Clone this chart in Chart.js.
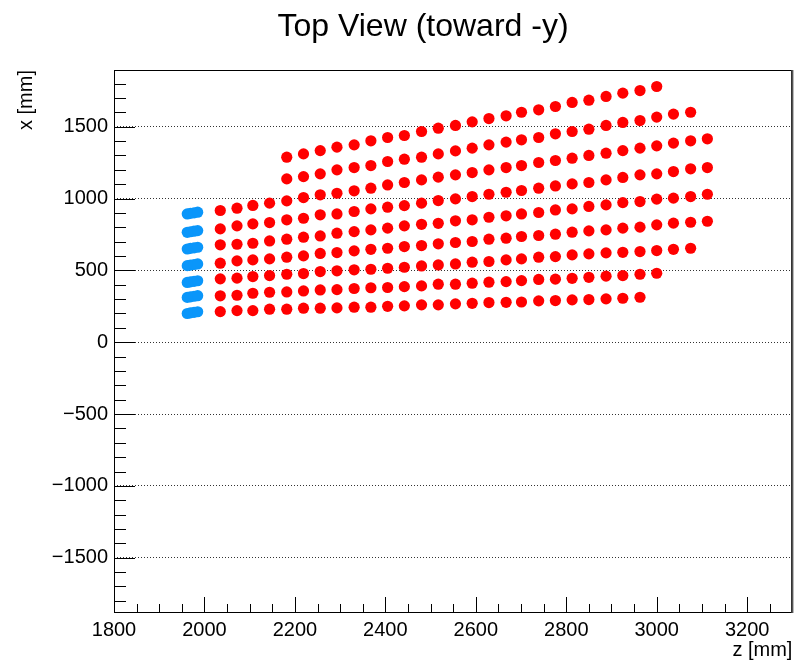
<!DOCTYPE html>
<html>
<head>
<meta charset="utf-8">
<title>Top View (toward -y)</title>
<script src="https://cdn.jsdelivr.net/npm/chart.js@4.4.0/dist/chart.umd.min.js"></script>
<style>
  html, body { margin: 0; padding: 0; background: #fff; }
  canvas { display: block; }
</style>
</head>
<body>
<canvas id="topView" width="798" height="662"></canvas>
<script>
// column positions along z (mm), shared by all red rows
const zCols = [2035, 2072, 2107, 2144, 2182, 2219, 2256, 2293, 2331, 2368,
  2405, 2442, 2480, 2517, 2555, 2592, 2629, 2667, 2701, 2739,
  2776, 2813, 2850, 2888, 2925, 2963, 3000, 3037, 3075, 3112];

// x (mm) of each red row, bottom row first; rowStart = first column index
const rowStart = [0, 0, 0, 0, 0, 0, 0, 4, 4];
const row1 = [213, 220, 220, 230, 230, 237, 237, 239, 244, 244, 250, 253, 260, 260, 267, 271, 276, 278, 280, 288, 290, 295, 297, 302, 306, 313];
const row2 = [323, 327, 341, 348, 350, 357, 364, 366, 374, 379, 381, 387, 392, 404, 404, 411, 418, 422, 429, 437, 439, 445, 452, 460, 464, 473, 480];
const row3 = [441, 446, 457, 464, 473, 478, 492, 497, 504, 508, 515, 522, 531, 538, 545, 557, 562, 573, 580, 592, 596, 608, 615, 622, 626, 631, 638, 647, 654];
const row4 = [550, 566, 573, 580, 592, 601, 618, 624, 636, 647, 654, 666, 673, 685, 694, 701, 717, 724, 736, 743, 752, 766, 775, 782, 794, 801, 817, 829, 835, 842];
const row5 = [678, 682, 689, 705, 717, 731, 740, 759, 770, 782, 794, 810, 821, 828, 845, 852, 870, 880, 893, 903, 921, 928, 945, 956, 972, 979, 996, 1003, 1014, 1030];
const row6 = [789, 810, 824, 833, 852, 863, 887, 893, 910, 928, 940, 951, 968, 986, 998, 1014, 1030, 1044, 1056, 1072, 1088, 1102, 1112, 1130, 1147, 1165, 1172, 1188, 1207, 1216];
const row7 = [917, 933, 952, 968, 984, 1007, 1026, 1037, 1054, 1072, 1095, 1112, 1130, 1149, 1165, 1181, 1200, 1216, 1230, 1251, 1265, 1281, 1300, 1316, 1334, 1351, 1367, 1386, 1402, 1416];
const row8 = [1137, 1153, 1172, 1200, 1216, 1230, 1258, 1274, 1288, 1311, 1332, 1351, 1374, 1393, 1409, 1425, 1451, 1467, 1483, 1509, 1530, 1543, 1567, 1588, 1601];
const row9 = [1288, 1311, 1334, 1358, 1374, 1402, 1425, 1439, 1467, 1490, 1509, 1534, 1557, 1576, 1601, 1618, 1641, 1669, 1685, 1711, 1734, 1752, 1780];

// blue cluster: four z positions, one x set per row
const blueZ = [1962, 1969, 1977, 1985];
const blueRows = [
  [893, 897, 901, 905], [765, 769, 773, 777], [649, 653, 657, 661], [533, 537, 541, 545],
  [416, 420, 424, 428], [312, 316, 320, 324], [200, 204, 208, 212]
];

// axis ticks
const zTicks = [1800, 2000, 2200, 2400, 2600, 2800, 3000, 3200];
const xTicks = [-1500, -1000, -500, 0, 500, 1000, 1500];

const chartTitle = 'Top View (toward -y)';
const zTitle = 'z [mm]';
const xTitle = 'x [mm]';

// build point lists
const redPoints = [];
[row1, row2, row3, row4, row5, row6, row7, row8, row9].forEach(function (row, r) {
  row.forEach(function (xv, i) {
    redPoints.push({ x: zCols[rowStart[r] + i], y: xv });
  });
});
const bluePoints = [];
blueRows.forEach(function (row) {
  row.forEach(function (xv, i) {
    bluePoints.push({ x: blueZ[i], y: xv });
  });
});

const font = { family: "'Liberation Sans', Arial, Helvetica, sans-serif", size: 20 };
// plain numbers, true minus sign like ROOT
const plainLabel = function (v) { return v < 0 ? '\u2212' + Math.abs(v) : String(v); };

// ROOT-like frame, inward tick marks and the title
const rootFrame = {
  id: 'rootFrame',
  afterDraw(chart) {
    const { ctx, chartArea: a, scales } = chart;
    const sx = scales.x, sy = scales.y;
    ctx.save();
    ctx.strokeStyle = '#000';
    ctx.lineWidth = 1;
    ctx.beginPath();
    for (let v = -1800; v <= 1800; v += 100) {
      const py = Math.round(sy.getPixelForValue(v)) + 0.5;
      const len = v % 500 === 0 ? 21 : 12;
      ctx.moveTo(a.left, py);
      ctx.lineTo(a.left + len, py);
    }
    for (let v = 1850; v <= 3250; v += 50) {
      const px = Math.round(sx.getPixelForValue(v)) + 0.5;
      const len = v % 200 === 0 ? 16 : 9;
      ctx.moveTo(px, a.bottom);
      ctx.lineTo(px, a.bottom - len);
    }
    ctx.stroke();
    // frame
    ctx.strokeRect(Math.round(a.left) + 0.5, Math.round(a.top) + 0.5,
      Math.round(a.right - a.left) - 1, Math.round(a.bottom - a.top) - 1);
    ctx.lineWidth = 2;
    ctx.strokeStyle = '#555';
    ctx.beginPath();
    ctx.moveTo(a.right, a.top);
    ctx.lineTo(a.right, a.bottom);
    ctx.stroke();
    // title
    ctx.fillStyle = '#000';
    ctx.font = "32px 'Liberation Sans', Arial, Helvetica, sans-serif";
    ctx.textAlign = 'center';
    ctx.textBaseline = 'alphabetic';
    ctx.fillText(chartTitle, 423, 36);
    ctx.restore();
  }
};

const ctx = document.getElementById('topView').getContext('2d');
new Chart(ctx, {
  type: 'scatter',
  data: {
    datasets: [
      {
        label: 'red',
        data: redPoints,
        backgroundColor: '#ff0000',
        borderWidth: 0,
        pointRadius: 5.6,
      },
      {
        label: 'blue',
        data: bluePoints,
        backgroundColor: 'rgb(10,150,250)',
        borderWidth: 0,
        pointRadius: 5.6,
      },
    ],
  },
  options: {
    responsive: false,
    animation: false,
    devicePixelRatio: 1,
    layout: { padding: { top: 70, right: 4, left: 0, bottom: 0 } },
    plugins: {
      legend: { display: false },
      tooltip: { enabled: false },
      title: { display: false },
    },
    scales: {
      x: {
        type: 'linear',
        min: 1800,
        max: 3300,
        afterBuildTicks: function (s) { s.ticks = zTicks.map(v => ({ value: v })); },
        afterFit: function (s) { s.height = 49; },
        grid: { display: false, drawTicks: false },
        border: { display: false },
        ticks: { font: font, color: '#000', padding: 5, maxRotation: 0, autoSkip: false, callback: plainLabel },
        title: { display: true, text: zTitle, align: 'end', font: font, color: '#000', padding: { top: 0, bottom: 0 } },
      },
      y: {
        type: 'linear',
        min: -1885,
        max: 1895,
        afterBuildTicks: function (s) { s.ticks = xTicks.map(v => ({ value: v })); },
        afterFit: function (s) { s.width = 114; },
        grid: { color: '#333', lineWidth: 1, drawTicks: false },
        border: { display: false, dash: [1, 2] },
        ticks: { font: font, color: '#000', padding: 6, autoSkip: false, callback: plainLabel },
        title: { display: true, text: xTitle, align: 'end', font: font, color: '#000', padding: { top: 14, bottom: 0 } },
      },
    },
  },
  plugins: [rootFrame],
});
</script>
</body>
</html>
